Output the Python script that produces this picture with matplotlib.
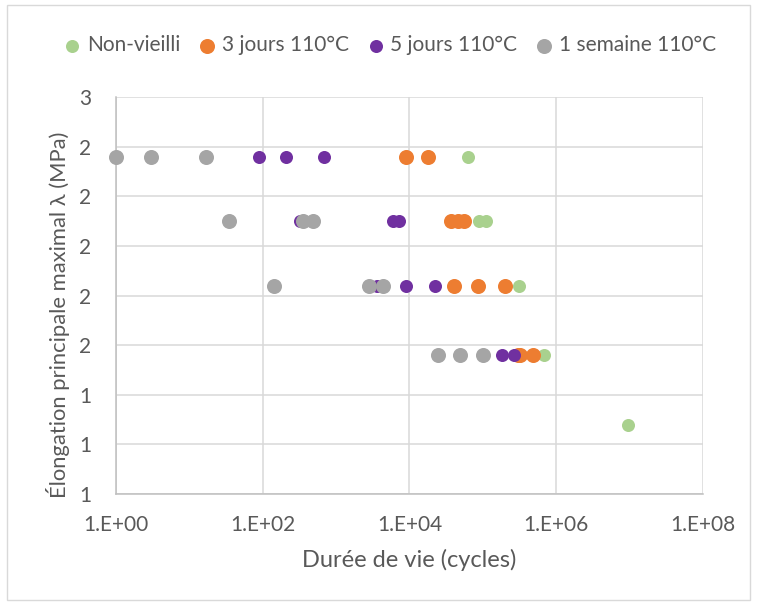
import math
import matplotlib
matplotlib.use("Agg")
import matplotlib.pyplot as plt
from matplotlib.ticker import FixedLocator, FuncFormatter, NullLocator
from matplotlib.patches import Rectangle

# data (cycles, elongation)
green_x = [62500, 89100, 110000, 306000, 672000, 9.6e6]
green_y = [2.36, 2.10, 2.10, 1.84, 1.56, 1.28]

orange_x = [8830, 17600, 37000, 45100, 54500, 39800, 84600, 202000, 300000, 316000, 481000]
orange_y = [2.36, 2.36, 2.10, 2.10, 2.10, 1.84, 1.84, 1.84, 1.56, 1.56, 1.56]

purple_x = [89, 206, 686, 323, 5930, 7230, 3590, 9020, 22600, 185000, 262000]
purple_y = [2.36, 2.36, 2.36, 2.10, 2.10, 2.10, 1.84, 1.84, 1.84, 1.56, 1.56]

gray_x = [1, 3, 17, 34.4, 359, 481, 143, 2850, 4420, 24800, 49100, 99000]
gray_y = [2.36, 2.36, 2.36, 2.10, 2.10, 2.10, 1.84, 1.84, 1.84, 1.56, 1.56, 1.56]

labels = ["Non-vieilli", "3 jours 110°C", "5 jours 110°C", "1 semaine 110°C"]
colors = ["#A9D18E", "#ED7D31", "#7030A0", "#A5A5A5"]

x_ticks = [1, 1e2, 1e4, 1e6, 1e8]
y_ticks = [1.0, 1.2, 1.4, 1.6, 1.8, 2.0, 2.2, 2.4, 2.6]

plt.rcParams['font.family'] = ['Lato', 'DejaVu Sans']
txt = "#595959"

fig = plt.figure(figsize=(7.57, 6.10), dpi=100)
ax = fig.add_axes([0.1532, 0.190, 0.7755, 0.651])

series = [(green_x, green_y, 88), (orange_x, orange_y, 117),
          (purple_x, purple_y, 88), (gray_x, gray_y, 117)]
for (xs, ys, s), lab, c in zip(series, labels, colors):
    ax.scatter(xs, ys, s=s, color=c, label=lab, linewidths=0, zorder=3, clip_on=False)

ax.set_xscale("log")
ax.set_xlim(1, 1e8)
ax.set_ylim(1.0, 2.6)
ax.xaxis.set_major_locator(FixedLocator(x_ticks))
ax.xaxis.set_minor_locator(NullLocator())
ax.xaxis.set_major_formatter(FuncFormatter(lambda v, p: "1.E+%02d" % round(math.log10(v))))
ax.yaxis.set_major_locator(FixedLocator(y_ticks))
ax.yaxis.set_major_formatter(FuncFormatter(lambda v, p: "%.0f" % v))

ax.grid(True, color="#D9D9D9", linewidth=1.1, zorder=0)
ax.set_axisbelow(True)
for side in ["top", "right"]:
    ax.spines[side].set_visible(False)
for side in ["left", "bottom"]:
    ax.spines[side].set_color("#BFBFBF")
    ax.spines[side].set_linewidth(1.1)
ax.tick_params(axis="both", length=0, labelsize=15, colors=txt)
ax.tick_params(axis="x", pad=15)
ax.tick_params(axis="y", pad=18)

ax.set_xlabel("Durée de vie (cycles)", fontsize=17, color=txt)
ax.xaxis.set_label_coords(0.5, -0.1385)
ax.set_ylabel("Élongation principale maximal λ (MPa)", fontsize=15.8, color=txt)
ax.yaxis.set_label_coords(-0.078, 0.451)

fig.legend(loc="center", bbox_to_anchor=(0.515, 0.926), ncol=4, frameon=False,
           fontsize=15, labelcolor=txt, handlelength=0.8, handletextpad=0.3,
           columnspacing=0.9, markerscale=1.0, borderaxespad=0)

# chart area border
fig.patches.append(Rectangle((0.009, 0.016), 0.982, 0.976, transform=fig.transFigure,
                             fill=False, edgecolor="#D9D9D9", linewidth=1))

fig.savefig("out.png", dpi=100)
